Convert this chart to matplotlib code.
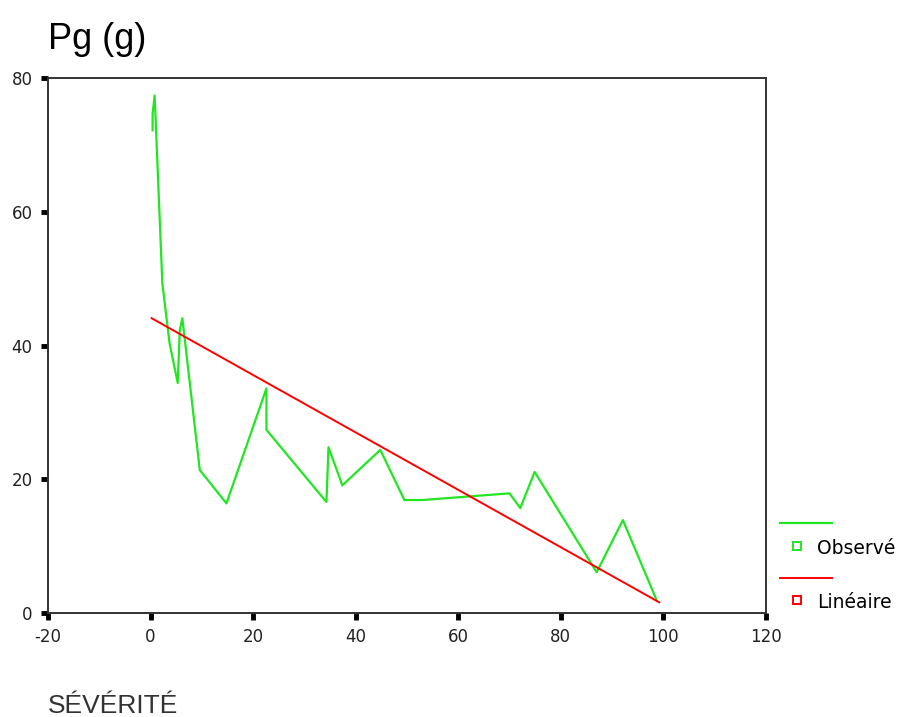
import matplotlib.pyplot as plt
from matplotlib.lines import Line2D

plt.rcParams['font.family'] = ['Liberation Sans', 'DejaVu Sans']
plt.rcParams['axes.unicode_minus'] = False

############## Data #####################################
# observed Pg (g) vs severity, in drawing order
severite = [0.4, 0.4, 0.8, 2.3, 3.7, 5.3, 5.7, 6.2, 9.6, 14.8, 22.6, 22.6,
            34.3, 34.7, 37.4, 44.8, 49.5, 53.0, 59.8, 70.0, 72.1, 74.9,
            87.0, 92.1, 98.7]
pg_obs = [72.2, 74.7, 77.4, 49.3, 40.4, 34.4, 42.3, 44.1, 21.4, 16.4, 33.6,
          27.4, 16.6, 24.8, 19.1, 24.4, 16.9, 16.9, 17.3, 17.9, 15.7, 21.1,
          6.1, 13.9, 1.9]

# linear fit, end points
lin_x = [0.2, 99.2]
lin_y = [44.1, 1.6]

x_ticks = [-20, 0, 20, 40, 60, 80, 100, 120]
y_ticks = [0, 20, 40, 60, 80]

################# Plot #######################
fig = plt.figure(figsize=(9.14, 7.17), dpi=100)
ax = fig.add_axes([0.0525, 0.145, 0.7855, 0.746])

ax.plot(severite, pg_obs, color='#22e622', lw=1.6, zorder=3)
ax.plot(lin_x, lin_y, color='#ff0000', lw=1.4, zorder=4)

ax.set_xlim(-20, 120)
ax.set_ylim(0, 80)
ax.set_xticks(x_ticks)
ax.set_yticks(y_ticks)
ax.tick_params(direction='out', length=5, width=3.5, color='black',
               labelsize=12, pad=6, labelcolor='#222222')
for lab in ax.get_xticklabels() + ax.get_yticklabels():
    lab.set_family('DejaVu Sans')
for s in ax.spines.values():
    s.set_linewidth(1.4)
    s.set_color('#333333')

fig.text(0.0525, 0.932, 'Pg (g)', fontsize=26, color='black')
fig.text(0.0525, 0.005, 'SÉVÉRITÉ', fontsize=19, color='#333333')

# legend at the right, drawn by hand
fig.add_artist(Line2D([780 / 914, 832 / 914], [1 - 523 / 717] * 2,
                      color='#22e622', lw=1.6))
fig.add_artist(Line2D([797 / 914], [1 - 546 / 717], marker='s', ms=6,
                      mfc='white', mec='#22e622', mew=1.4, ls='none'))
fig.text(817 / 914, 1 - 548 / 717, 'Observé', fontsize=13.5, va='center',
         family='DejaVu Sans')
fig.add_artist(Line2D([780 / 914, 832 / 914], [1 - 578 / 717] * 2,
                      color='#ff0000', lw=1.4))
fig.add_artist(Line2D([797 / 914], [1 - 600 / 717], marker='s', ms=6,
                      mfc='white', mec='#ff0000', mew=1.4, ls='none'))
fig.text(817 / 914, 1 - 602 / 717, 'Linéaire', fontsize=13.5, va='center',
         family='DejaVu Sans')

plt.savefig('out.png', dpi=100)
